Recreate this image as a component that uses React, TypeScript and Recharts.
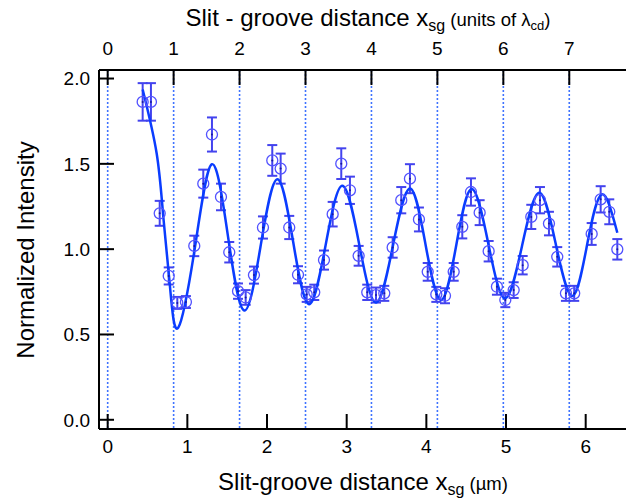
import React from 'react';
import { ComposedChart, XAxis, YAxis, Scatter, Line, ErrorBar, ReferenceLine } from 'recharts';

// Measured data: slit-groove distance (µm), normalized intensity, error
const xUm = [
  0.439, 0.543, 0.653, 0.766, 0.874, 0.982, 1.087, 1.2, 1.309, 1.422,
  1.526, 1.636, 1.732, 1.836, 1.949, 2.066, 2.171, 2.279, 2.389, 2.498,
  2.593, 2.715, 2.824, 2.932, 3.041, 3.15, 3.258, 3.368, 3.472, 3.577,
  3.685, 3.794, 3.907, 4.017, 4.125, 4.234, 4.343, 4.451, 4.56, 4.669,
  4.782, 4.886, 4.991, 5.096, 5.209, 5.317, 5.426, 5.539, 5.643, 5.752,
  5.856, 6.075, 6.188, 6.296, 6.397,
];
const intensity = [
  1.863, 1.863, 1.21, 0.843, 0.685, 0.69, 1.019, 1.384, 1.672, 1.306,
  0.982, 0.754, 0.717, 0.848, 1.127, 1.52, 1.472, 1.127, 0.85, 0.735,
  0.747, 0.936, 1.205, 1.501, 1.345, 0.961, 0.747, 0.731, 0.741, 1.01,
  1.287, 1.413, 1.174, 0.867, 0.735, 0.727, 0.867, 1.131, 1.335, 1.214,
  0.988, 0.78, 0.702, 0.76, 0.906, 1.189, 1.287, 1.15, 0.955, 0.741,
  0.741, 1.089, 1.292, 1.219, 0.999,
];
const errorBars = [
  0.11, 0.11, 0.073, 0.05, 0.035, 0.035, 0.06, 0.082, 0.1, 0.078,
  0.06, 0.045, 0.043, 0.05, 0.065, 0.09, 0.088, 0.068, 0.05, 0.044,
  0.045, 0.056, 0.072, 0.09, 0.08, 0.058, 0.045, 0.044, 0.044, 0.06,
  0.077, 0.085, 0.07, 0.052, 0.044, 0.044, 0.052, 0.068, 0.08, 0.073,
  0.06, 0.047, 0.042, 0.046, 0.054, 0.071, 0.077, 0.069, 0.057, 0.044,
  0.044, 0.064, 0.077, 0.073, 0.06,
];

// Fitted curve
const fitX = [
  0.439, 0.615, 0.698, 0.782, 0.886, 1.098, 1.309, 1.512, 1.715, 1.922,
  2.129, 2.328, 2.527, 2.736, 2.945, 3.157, 3.368, 3.581, 3.794, 3.989,
  4.184, 4.377, 4.569, 4.778, 4.987, 5.202, 5.417, 5.625, 5.832, 6.017,
  6.201, 6.397,
];
const fitY = [
  1.936, 1.561, 1.19, 0.78, 0.54, 1.019, 1.498, 1.069, 0.64, 1.025,
  1.409, 1.043, 0.677, 1.024, 1.371, 1.029, 0.687, 1.022, 1.356, 1.029,
  0.702, 1.027, 1.352, 1.032, 0.712, 1.021, 1.33, 1.028, 0.726, 1.024,
  1.321, 1.096,
];

const bottomTicks = [0, 1, 2, 3, 4, 5, 6];
const topTicks = [0, 1, 2, 3, 4, 5, 6, 7];
const yTicks = [0, 0.5, 1, 1.5, 2];
const lambdaCd = 0.8277; // µm per unit of λcd
const xDomain = [-0.109, 6.506];
const yDomain = [-0.054, 2.05];

const points = xUm.map((x, i) => ({ x, y: intensity[i], e: errorBars[i] }));
const fit = fitX.map((x, i) => ({ x, y: fitY[i] }));

const FONT = '"Liberation Sans", Arial, Helvetica, sans-serif';

const CircleMark = (props: any) => {
  const { cx, cy } = props;
  if (cx == null || cy == null) return null;
  return (
    <g>
      <circle cx={cx} cy={cy} r={5.5} fill="none" stroke="#5252ff" strokeWidth={1.3} />
      <circle cx={cx} cy={cy} r={1} fill="#1a1aa0" />
    </g>
  );
};

export default function App() {
  const tickStyle = { fontSize: 19, fill: '#000', fontFamily: FONT };
  return (
    <div style={{ position: 'absolute', left: 0, top: 0, width: 626, height: 504, background: '#fff' }}>
      <ComposedChart width={626} height={504} margin={{ top: 0, right: 0, bottom: 0, left: 0 }}>
        <XAxis
          xAxisId="b"
          type="number"
          dataKey="x"
          domain={xDomain}
          ticks={bottomTicks}
          allowDataOverflow
          height={75}
          tickSize={-15}
          tickMargin={26}
          tick={tickStyle}
          axisLine={{ stroke: '#000', strokeWidth: 2 }}
          tickLine={{ stroke: '#000', strokeWidth: 2 }}
        />
        <XAxis
          xAxisId="t"
          orientation="top"
          type="number"
          dataKey="x"
          domain={[xDomain[0] / lambdaCd, xDomain[1] / lambdaCd]}
          ticks={topTicks}
          allowDataOverflow
          height={70}
          tickSize={-15}
          tickMargin={30}
          tick={tickStyle}
          axisLine={{ stroke: '#000', strokeWidth: 2 }}
          tickLine={{ stroke: '#000', strokeWidth: 2 }}
        />
        <YAxis
          yAxisId="l"
          type="number"
          dataKey="y"
          domain={yDomain}
          ticks={yTicks}
          allowDataOverflow
          width={99}
          tickSize={-15}
          tickMargin={24}
          tick={tickStyle}
          tickFormatter={(v: number) => v.toFixed(1)}
          axisLine={{ stroke: '#000', strokeWidth: 2 }}
          tickLine={{ stroke: '#000', strokeWidth: 2 }}
        />
        <YAxis
          yAxisId="r"
          orientation="right"
          type="number"
          domain={yDomain}
          ticks={yTicks}
          allowDataOverflow
          width={0}
          tickSize={-14}
          tickMargin={0}
          tick={tickStyle}
          tickFormatter={() => ''}
          axisLine={false}
          tickLine={{ stroke: '#000', strokeWidth: 2 }}
        />
        {topTicks.map((k) => (
          <ReferenceLine
            key={k}
            xAxisId="t"
            yAxisId="l"
            x={k}
            stroke="#3f73ff"
            strokeWidth={1.6}
            strokeDasharray="2 2"
          />
        ))}
        <Scatter
          xAxisId="b"
          yAxisId="l"
          data={points}
          dataKey="y"
          shape={CircleMark}
          isAnimationActive={false}
        >
          <ErrorBar dataKey="e" direction="y" width={5} strokeWidth={2} stroke="#4343ee" />
        </Scatter>
        <Line
          xAxisId="b"
          yAxisId="l"
          data={fit}
          dataKey="y"
          type="natural"
          stroke="#0a3cff"
          strokeWidth={2.5}
          dot={false}
          activeDot={false}
          isAnimationActive={false}
        />
      </ComposedChart>
      <svg
        width={626}
        height={504}
        style={{ position: 'absolute', left: 0, top: 0, pointerEvents: 'none' }}
        fontFamily={FONT}
      >
        <text x={368} y={26} textAnchor="middle" fontSize={24} fill="#000">
          Slit - groove distance x
          <tspan fontSize={16} dy={5}>sg</tspan>
          <tspan fontSize={18.5} dy={-5}> (units of λ</tspan>
          <tspan fontSize={13} dy={4}>cd</tspan>
          <tspan fontSize={18.5} dy={-4}>)</tspan>
        </text>
        <text x={363} y={490} textAnchor="middle" fontSize={24} fill="#000">
          Slit-groove distance x
          <tspan fontSize={16} dy={5}>sg</tspan>
          <tspan fontSize={18.5} dy={-5}> (µm)</tspan>
        </text>
        <text transform="translate(34,250) rotate(-90)" textAnchor="middle" fontSize={24} fill="#000">
          Normalized Intensity
        </text>
      </svg>
    </div>
  );
}
